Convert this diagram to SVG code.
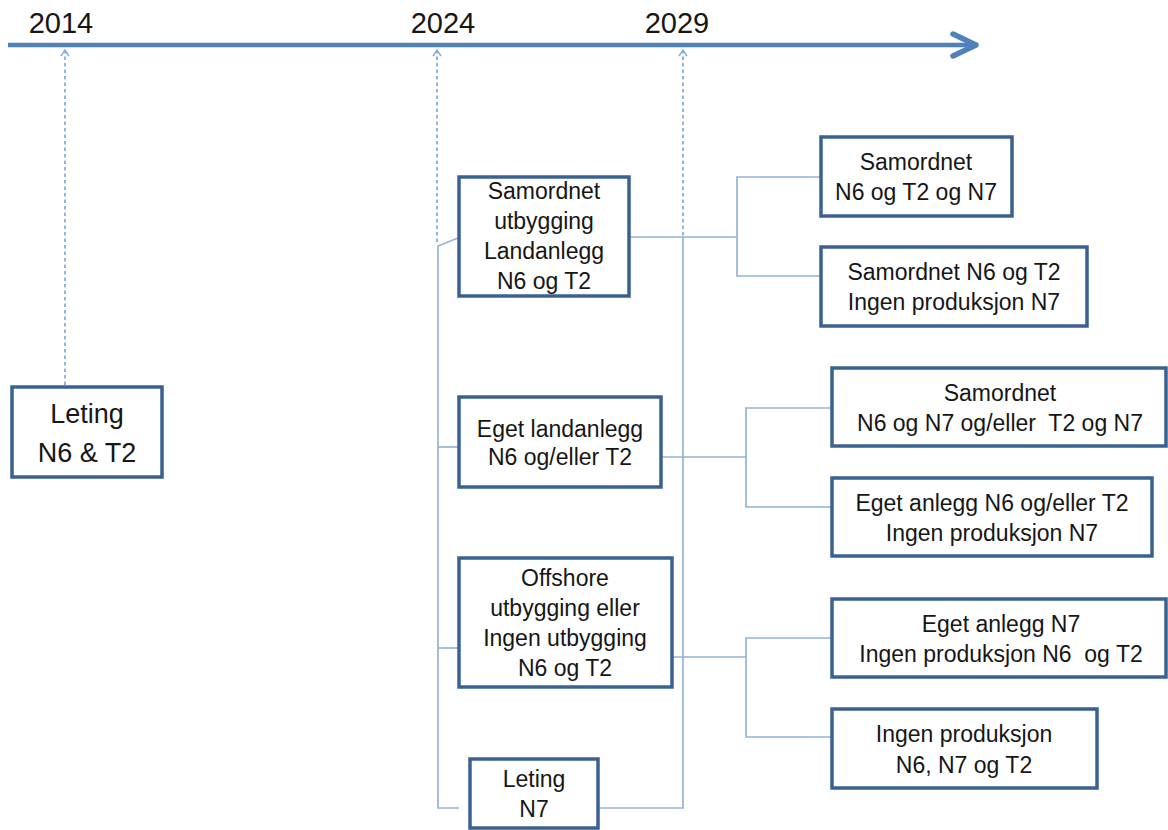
<svg xmlns="http://www.w3.org/2000/svg" width="1168" height="830" viewBox="0 0 1168 830">
<style>
.box{fill:#fff;stroke:#3a6192;stroke-width:3.5}
.t{font-family:"Liberation Sans",Arial,sans-serif;font-size:23px;fill:#161616;text-anchor:middle}
.yr{font-family:"Liberation Sans",Arial,sans-serif;font-size:29px;fill:#161616;text-anchor:middle}
.c{fill:none;stroke:#95b3d7;stroke-width:1.7}
.d{fill:none;stroke:#85aee0;stroke-width:1.8;stroke-dasharray:3.5 3}
.ah{fill:none;stroke:#85aee0;stroke-width:1.5}
</style>
<rect width="1168" height="830" fill="#fff"/>
<g id="timeline">
<line x1="8" y1="45" x2="974" y2="45" stroke="#4f81bd" stroke-width="4.5"/>
<polyline points="953,34 976,45 953,56" fill="none" stroke="#4f81bd" stroke-width="5.5" stroke-linecap="round" stroke-linejoin="round"/>
<text class="yr" x="61" y="33">2014</text>
<text class="yr" x="443" y="33">2024</text>
<text class="yr" x="677" y="33">2029</text>
</g>
<g id="connectors">
<line class="d" x1="65" y1="50" x2="65" y2="386"/>
<polyline class="ah" points="61,56 65,50 69,56"/>
<line class="d" x1="437" y1="50" x2="437" y2="245"/>
<polyline class="ah" points="433,56 437,50 441,56"/>
<line class="d" x1="683" y1="50" x2="683" y2="237"/>
<polyline class="ah" points="679,56 683,50 687,56"/>
<polyline class="c" points="458,238 438,246 438,808 459,808"/>
<line class="c" x1="438" y1="447" x2="458" y2="447"/>
<line class="c" x1="438" y1="648" x2="458" y2="648"/>
<polyline class="c" points="599,808 683,808 683,237"/>
<line class="c" x1="630" y1="237" x2="737" y2="237"/>
<polyline class="c" points="820,177 737,177 737,276 820,276"/>
<line class="c" x1="662" y1="457" x2="746" y2="457"/>
<polyline class="c" points="831,408 746,408 746,507 831,507"/>
<line class="c" x1="673" y1="657" x2="746" y2="657"/>
<polyline class="c" points="831,638 746,638 746,737 831,737"/>
</g>
<g id="leting-n6-t2">
<rect class="box" x="12" y="387" width="150" height="90"/>
<text class="t" x="87" y="423" style="font-size:27px">Leting</text>
<text class="t" x="87" y="462" style="font-size:27px">N6 &amp; T2</text>
</g>
<g id="samordnet-utbygging">
<rect class="box" x="459" y="177" width="170" height="119"/>
<text class="t" x="544" y="199">Samordnet</text>
<text class="t" x="544" y="229">utbygging</text>
<text class="t" x="544" y="259">Landanlegg</text>
<text class="t" x="544" y="289">N6 og T2</text>
</g>
<g id="eget-landanlegg">
<rect class="box" x="459" y="397" width="202" height="90"/>
<text class="t" x="560" y="437">Eget landanlegg</text>
<text class="t" x="560" y="465">N6 og/eller T2</text>
</g>
<g id="offshore">
<rect class="box" x="459" y="558" width="213" height="129"/>
<text class="t" x="565" y="586">Offshore</text>
<text class="t" x="565" y="616">utbygging eller</text>
<text class="t" x="565" y="646">Ingen utbygging</text>
<text class="t" x="565" y="676">N6 og T2</text>
</g>
<g id="leting-n7">
<rect class="box" x="470" y="759" width="128" height="69"/>
<text class="t" x="534" y="787">Leting</text>
<text class="t" x="534" y="817">N7</text>
</g>
<g id="r1">
<rect class="box" x="821" y="137" width="191" height="79"/>
<text class="t" x="916" y="170">Samordnet</text>
<text class="t" x="916" y="200">N6 og T2 og N7</text>
</g>
<g id="r2">
<rect class="box" x="821" y="247" width="266" height="79"/>
<text class="t" x="954" y="280">Samordnet N6 og T2</text>
<text class="t" x="954" y="310">Ingen produksjon N7</text>
</g>
<g id="r3">
<rect class="box" x="832" y="368" width="334" height="78"/>
<text class="t" x="1000" y="401">Samordnet</text>
<text class="t" x="1000" y="431" xml:space="preserve">N6 og N7 og/eller  T2 og N7</text>
</g>
<g id="r4">
<rect class="box" x="832" y="478" width="320" height="78"/>
<text class="t" x="992" y="511">Eget anlegg N6 og/eller T2</text>
<text class="t" x="992" y="541">Ingen produksjon N7</text>
</g>
<g id="r5">
<rect class="box" x="832" y="599" width="334" height="78"/>
<text class="t" x="1001" y="632">Eget anlegg N7</text>
<text class="t" x="1001" y="662" xml:space="preserve">Ingen produksjon N6  og T2</text>
</g>
<g id="r6">
<rect class="box" x="832" y="709" width="265" height="79"/>
<text class="t" x="964" y="742">Ingen produksjon</text>
<text class="t" x="964" y="773">N6, N7 og T2</text>
</g>
</svg>
